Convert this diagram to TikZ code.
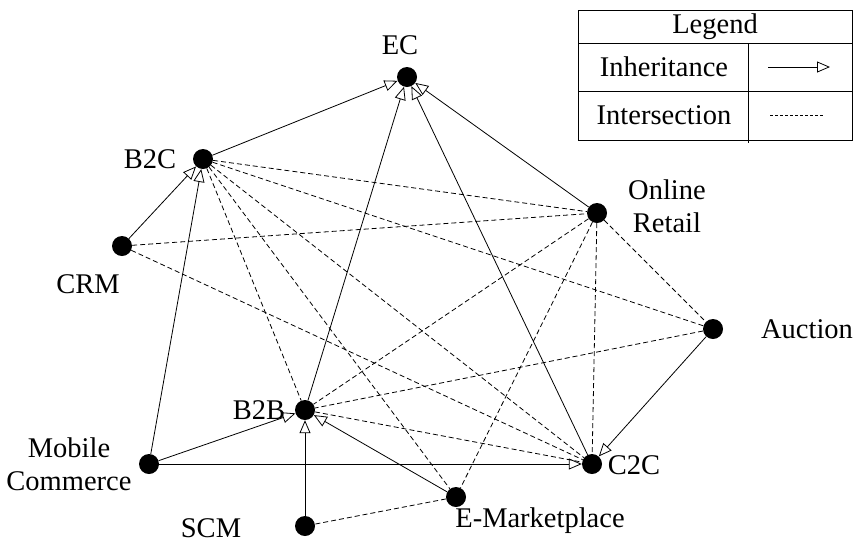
\documentclass[tikz,border=0pt]{standalone}
\usepackage{fontspec}
\setmainfont{Liberation Serif}
\usepackage{tikz}
\usetikzlibrary{arrows.meta}

\begin{document}
\begin{tikzpicture}[
  x=1pt, y=-1pt,
  dot/.style={circle, fill=black, inner sep=0pt, minimum size=20pt},
  tag/.style={font=\fontsize{28.5}{33}\selectfont, align=center, inner sep=0pt},
  inherit/.style={-{Triangle[open, length=13pt, width=11pt]}, line width=0.8pt},
  intersect/.style={dash pattern=on 5pt off 3pt, line width=0.8pt},
  fineline/.style={dash pattern=on 3pt off 2pt, line width=0.7pt}
]
\useasboundingbox (0,0) rectangle (856,547);
% concepts
\node[dot] (EC) at (407,77) {};
\node[dot] (B2C) at (203,159) {};
\node[dot] (CRM) at (122,246) {};
\node[dot] (OR) at (597,213) {};
\node[dot] (AU) at (713,329) {};
\node[dot] (B2B) at (305,410) {};
\node[dot] (MC) at (149,464) {};
\node[dot] (C2C) at (592,464) {};
\node[dot] (EM) at (456,497) {};
\node[dot] (SCM) at (305,526) {};
% names
\node[tag] (EClbl) at (400,45) {EC};
\node[tag] (B2Clbl) at (150,159) {B2C};
\node[tag] (CRMlbl) at (88,284) {CRM};
\node[tag] (ORlbl) at (667,206) {Online\\Retail};
\node[tag] (AUlbl) at (807,329) {Auction};
\node[tag] (B2Blbl) at (259,410) {B2B};
\node[tag] (MClbl) at (69,464) {Mobile\\Commerce};
\node[tag] (C2Clbl) at (634,465) {C2C};
\node[tag] (EMlbl) at (540,521) {E-Marketplace};
\node[tag] (SCMlbl) at (211,528) {SCM};
% relations
\foreach \a/\b in {B2C/EC,B2B/EC,C2C/EC,OR/EC,CRM/B2C,MC/B2C,MC/B2B,MC/C2C,SCM/B2B,EM/B2B,AU/C2C} \draw[inherit] (\a) -- (\b);
\foreach \a/\b in {B2C/OR,B2C/AU,B2C/C2C,B2C/EM,B2C/B2B,CRM/OR,CRM/C2C,OR/B2B,OR/EM,OR/C2C,OR/AU,AU/B2B,B2B/C2C,EM/SCM} \draw[intersect] (\a) -- (\b);
% legend
\draw[line width=0.9pt] (578,10) rectangle (852,140);
\draw[line width=0.9pt] (578,43) -- (852,43) (578,91) -- (852,91) (748,43) -- (748,143);
\node[tag] (lgTitle) at (715,27) {Legend};
\node[tag] (lgInh) at (664,67) {Inheritance};
\node[tag] (lgInt) at (664,115) {Intersection};
\coordinate (lgA) at (768,67);
\coordinate (lgB) at (830,67);
\coordinate (lgC) at (770,115);
\coordinate (lgD) at (823,115);
\draw[inherit] (lgA) -- (lgB);
\draw[fineline] (lgC) -- (lgD);
\end{tikzpicture}
\end{document}
